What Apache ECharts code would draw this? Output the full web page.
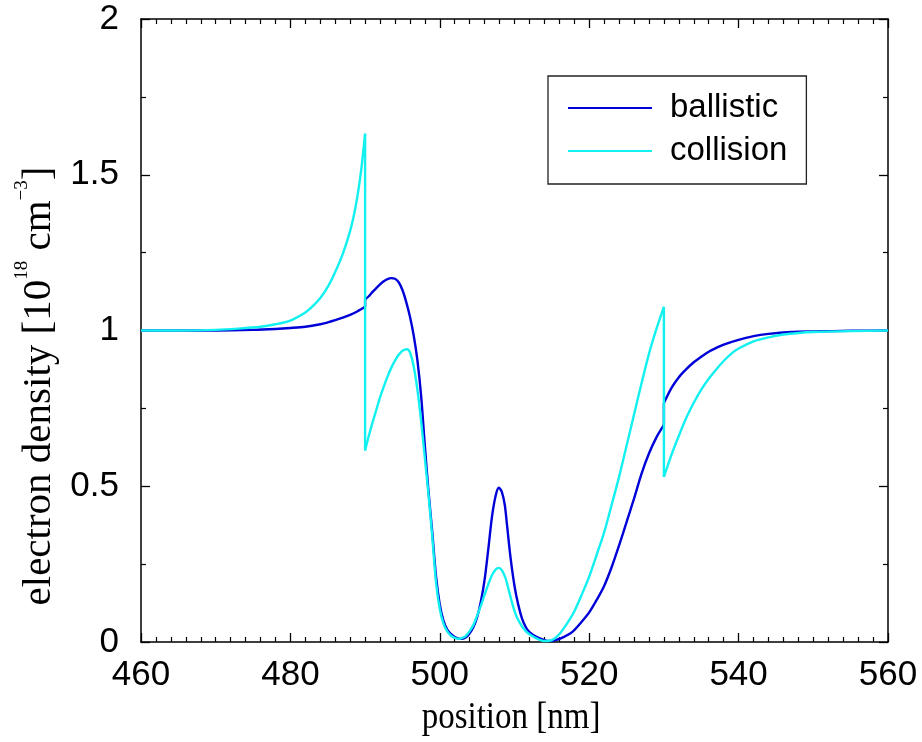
<!DOCTYPE html>
<html>
<head>
<meta charset="utf-8">
<script src="https://cdn.jsdelivr.net/npm/echarts@6/dist/echarts.min.js"></script>
<style>
html,body{margin:0;padding:0;background:#fff;}
#chart{width:922px;height:742px;}
</style>
</head>
<body>
<div id="chart"></div>
<script>
// x-axis ticks and y-axis ticks
const xTicks = [460, 480, 500, 520, 540, 560];
const yTicks = [0, 0.5, 1, 1.5, 2];
const seriesNames = ['ballistic', 'collision'];

// ballistic: [position nm, density 1e18 cm^-3] (repeated x = jump)
const ballistic = [
  [460,1.0],[470,1.0],[475,1.002],[478,1.005],[480,1.008],[482,1.012],[484,1.02],[485,1.026],
  [486,1.033],[487,1.041],[488,1.05],[489,1.062],[490,1.076],
  [490,1.10],[490.5,1.11],[491,1.124],[491.5,1.136],[492,1.148],[492.5,1.158],[493,1.165],
  [493.5,1.168],[494,1.166],[494.5,1.155],[495,1.13],[495.5,1.092],[496,1.045],[496.5,0.985],
  [497,0.905],[497.5,0.79],[498,0.63],[498.5,0.48],[499,0.35],[499.5,0.21],[500,0.12],
  [500.5,0.068],[501,0.04],[501.5,0.025],[502,0.016],[502.5,0.011],[503,0.01],[503.5,0.015],
  [504,0.028],[504.5,0.048],[505,0.08],[505.5,0.13],[506,0.2],[506.5,0.3],[507,0.405],
  [507.5,0.472],[507.9,0.495],[508.3,0.482],[508.7,0.44],[509,0.375],[509.5,0.265],
  [510,0.18],[510.5,0.12],[511,0.076],[511.5,0.048],[512,0.032],[513,0.016],[514,0.006],
  [514.7,0.003],[515.5,0.006],[516.5,0.015],[517.5,0.028],[518,0.038],[519,0.065],
  [520,0.095],[521,0.135],[522,0.18],[523,0.24],[524,0.31],[525,0.385],[526,0.46],
  [527,0.54],[528,0.605],[529,0.657],[530,0.697],
  [530,0.767],[531,0.815],[532,0.85],[533,0.876],[534,0.898],[535,0.916],[536,0.932],
  [537,0.944],[538,0.955],[540,0.97],[542,0.982],[544,0.989],[547,0.995],[550,0.997],
  [555,0.999],[560,1.0]
];

// collision: [position nm, density 1e18 cm^-3] (repeated x = jump)
const collision = [
  [460,1.0],[465,1.0],[470,1.002],[473,1.006],[476,1.012],[478,1.02],[480,1.032],[482,1.058],
  [483,1.078],[484,1.104],[485,1.14],[486,1.188],[487,1.245],[488,1.32],[488.5,1.37],
  [489,1.435],[489.5,1.52],[490,1.632],
  [490,0.615],[490.5,0.662],[491,0.705],[491.5,0.745],[492,0.785],[492.5,0.82],[493,0.852],
  [493.5,0.88],[494,0.903],[494.5,0.922],[495,0.935],[495.6,0.94],[496,0.93],[496.5,0.885],
  [497,0.81],[497.5,0.71],[498,0.59],[498.5,0.47],[499,0.335],[499.5,0.19],[500,0.105],
  [500.5,0.058],[501,0.034],[501.5,0.02],[502,0.013],[502.6,0.01],[503,0.013],[503.5,0.02],
  [504,0.035],[504.5,0.055],[505,0.085],[505.5,0.117],[506,0.152],[506.5,0.186],[507,0.215],
  [507.5,0.233],[507.9,0.238],[508.3,0.231],[508.8,0.205],[509.3,0.16],[509.8,0.115],
  [510.3,0.08],[511,0.05],[511.5,0.035],[512,0.025],[513,0.011],[514,0.003],[515,0.006],
  [516,0.025],[517,0.058],[518,0.098],[519,0.152],[520,0.21],[521,0.28],[522,0.352],
  [523,0.44],[524,0.53],[525,0.63],[526,0.73],[527,0.83],[528,0.925],[529,1.005],[530,1.076],
  [530,0.53],[531,0.6],[532,0.662],[533,0.72],[534,0.768],[535,0.81],[536,0.845],[537,0.875],
  [538,0.902],[539,0.925],[540,0.942],[542,0.965],[544,0.978],[546,0.987],[548,0.992],
  [550,0.995],[555,0.998],[560,1.0]
];

const colors = { ballistic: '#0000d8', collision: '#12f0f0' };

function segments(pts) {
  const segs = [];
  let cur = [pts[0]];
  for (let i = 1; i < pts.length; i++) {
    if (pts[i][0] === pts[i - 1][0]) {
      segs.push(cur);
      segs.push([pts[i - 1], pts[i]]);
      cur = [pts[i]];
    } else {
      cur.push(pts[i]);
    }
  }
  segs.push(cur);
  return segs;
}

const series = [];
[['ballistic', ballistic], ['collision', collision]].forEach(function (pair) {
  const name = pair[0];
  segments(pair[1]).forEach(function (seg) {
    series.push({
      type: 'line',
      name: name,
      data: seg,
      smooth: seg.length > 2 ? 0.3 : false,
      symbol: 'none',
      color: colors[name],
      lineStyle: { color: colors[name], width: 2.4 },
      itemStyle: { color: colors[name] },
      animation: false,
      z: name === 'collision' ? 3 : 2
    });
  });
});

const axisCommon = {
  axisLine: { show: true, onZero: false, lineStyle: { color: '#000', width: 1.5 } },
  axisTick: { show: true, inside: true, length: 9, lineStyle: { color: '#000', width: 1.3 } },
  minorTick: { show: true, length: 5, lineStyle: { color: '#000', width: 1.2 } },
  splitLine: { show: false }
};
const labelFont = { color: '#000', fontSize: 35, fontFamily: '"Liberation Sans", Arial, sans-serif' };

const option = {
  backgroundColor: '#fff',
  animation: false,
  grid: { left: 141, right: 34, top: 19, bottom: 100 },
  legend: {
    data: seriesNames,
    orient: 'vertical',
    left: 548, top: 76,
    icon: 'rect',
    itemWidth: 84, itemHeight: 2, itemGap: 9,
    padding: [15, 19, 16, 20],
    borderColor: '#222', borderWidth: 1.3,
    backgroundColor: '#fff',
    textStyle: { color: '#000', fontSize: 33, lineHeight: 34, padding: [0, 0, 0, 13],
      fontFamily: '"Liberation Sans", Arial, sans-serif' }
  },
  xAxis: [
    Object.assign({ type: 'value', min: xTicks[0], max: xTicks[xTicks.length - 1], interval: 20, position: 'bottom',
      axisLabel: Object.assign({ margin: 16 }, labelFont),
      minorTick: Object.assign({}, axisCommon.minorTick, { splitNumber: 10 }) },
      { axisLine: axisCommon.axisLine, axisTick: axisCommon.axisTick, splitLine: axisCommon.splitLine }),
    Object.assign({ type: 'value', min: xTicks[0], max: xTicks[xTicks.length - 1], interval: 20, position: 'top',
      axisLabel: { show: false },
      minorTick: Object.assign({}, axisCommon.minorTick, { splitNumber: 10 }) },
      { axisLine: axisCommon.axisLine, axisTick: axisCommon.axisTick, splitLine: axisCommon.splitLine })
  ],
  yAxis: [
    Object.assign({ type: 'value', min: yTicks[0], max: yTicks[yTicks.length - 1], interval: 0.5, position: 'left',
      axisLabel: Object.assign({ margin: 22 }, labelFont),
      minorTick: Object.assign({}, axisCommon.minorTick, { splitNumber: 2 }) },
      { axisLine: axisCommon.axisLine, axisTick: axisCommon.axisTick, splitLine: axisCommon.splitLine }),
    Object.assign({ type: 'value', min: yTicks[0], max: yTicks[yTicks.length - 1], interval: 0.5, position: 'right',
      axisLabel: { show: false },
      minorTick: Object.assign({}, axisCommon.minorTick, { splitNumber: 2 }) },
      { axisLine: axisCommon.axisLine, axisTick: axisCommon.axisTick, splitLine: axisCommon.splitLine })
  ],
  graphic: [
    {
      type: 'text', x: 511, y: 718, z: 10, scaleY: 1.15,
      style: { text: 'position [nm]', font: '33px "Liberation Serif", "Times New Roman", serif',
        fill: '#000', textAlign: 'center', textVerticalAlign: 'middle' }
    },
    {
      type: 'text', x: 36, y: 386, rotation: Math.PI / 2, z: 10,
      style: {
        text: '{m|electron density [10}{s|18}{m| cm}{s|\u22123}{m|]}',
        fill: '#000', textAlign: 'center', textVerticalAlign: 'middle',
        rich: {
          m: { fontSize: 41, fontFamily: '"Liberation Serif", "Times New Roman", serif', lineHeight: 47, verticalAlign: 'bottom', fill: '#000' },
          s: { fontSize: 19, fontFamily: '"Liberation Serif", "Times New Roman", serif', lineHeight: 19, verticalAlign: 'top', fill: '#000' }
        }
      }
    }
  ],
  series: series
};

const chart = echarts.init(document.getElementById('chart'), null, { renderer: 'canvas' });
chart.setOption(option);
</script>
</body>
</html>
